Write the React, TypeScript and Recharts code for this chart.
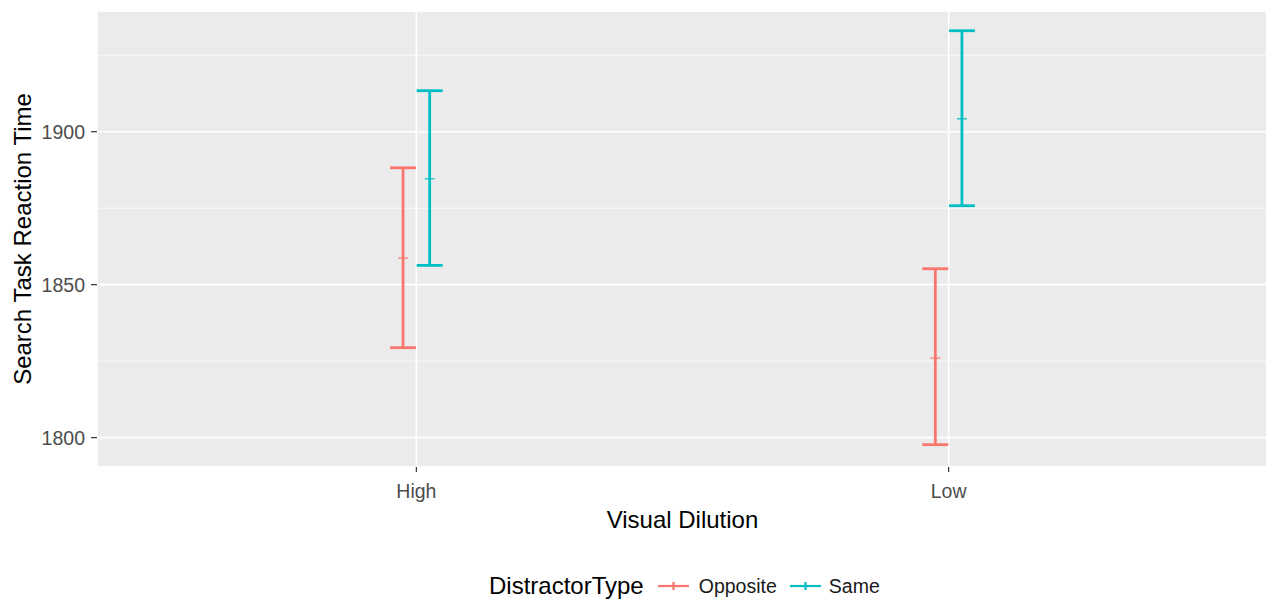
import React from 'react';
import {
  ComposedChart,
  Scatter,
  ErrorBar,
  XAxis,
  YAxis,
  CartesianGrid,
  Legend,
} from 'recharts';

const categories = ['High', 'Low'];
const categoryPositions = [1, 2];
const distractorTypes = ['Opposite', 'Same'];
const dodgeOffsets = [-0.025, 0.025];

const oppositeMean = [1858.7, 1826.0];
const oppositeLower = [1829.4, 1797.7];
const oppositeUpper = [1888.2, 1855.2];

const sameMean = [1884.6, 1904.2];
const sameLower = [1856.3, 1875.8];
const sameUpper = [1913.4, 1933.0];

const yTicks = [1800, 1850, 1900];
const yMinorTicks = [1825, 1875, 1925];
const yDomain = [1790.4, 1939.45];

const colors = ['#F8766D', '#00BFC4'];
const FONT = '"Liberation Sans", Arial, sans-serif';

function buildSeries(mean: number[], lower: number[], upper: number[], offset: number) {
  return categories.map((c, i) => ({
    category: c,
    x: categoryPositions[i] + offset,
    y: mean[i],
    err: [mean[i] - lower[i], upper[i] - mean[i]],
  }));
}

const oppositeData = buildSeries(oppositeMean, oppositeLower, oppositeUpper, dodgeOffsets[0]);
const sameData = buildSeries(sameMean, sameLower, sameUpper, dodgeOffsets[1]);

const meanShape = (color: string) => (props: any) => {
  const { cx, cy } = props;
  return <line x1={cx - 5} y1={cy} x2={cx + 5} y2={cy} stroke={color} strokeWidth={1.2} />;
};

const renderLegend = () => (
  <div style={{ display: 'flex', alignItems: 'center', fontFamily: FONT, whiteSpace: 'nowrap' }}>
    <span style={{ fontSize: 24, color: '#000', marginRight: 14 }}>DistractorType</span>
    {distractorTypes.map((t, i) => (
      <span key={t} style={{ display: 'flex', alignItems: 'center', marginRight: i === 0 ? 13 : 0 }}>
        <svg width={31} height={20}>
          <line x1={0} y1={10} x2={31} y2={10} stroke={colors[i]} strokeWidth={2.2} />
          <line x1={15.5} y1={6} x2={15.5} y2={14} stroke={colors[i]} strokeWidth={2.2} />
        </svg>
        <span style={{ fontSize: 19.5, color: '#1a1a1a', marginLeft: i === 0 ? 10 : 8 }}>{t}</span>
      </span>
    ))}
  </div>
);

export default function App() {
  return (
    <div style={{ position: 'absolute', left: 0, top: 0, width: 1266, height: 599, background: '#fff', fontFamily: FONT }}>
      <ComposedChart
        width={1266}
        height={599}
        margin={{ top: 11, right: -2, bottom: 0, left: 0 }}
        style={{ fontFamily: FONT }}
      >
        <CartesianGrid
          yAxisId="minor"
          fill="#EBEBEB"
          stroke="#FFFFFF"
          strokeWidth={0.8}
          vertical={false}
        />
        <CartesianGrid stroke="#FFFFFF" strokeWidth={1.6} fill="none" />
        <XAxis
          type="number"
          dataKey="x"
          domain={[0.4, 2.6]}
          ticks={categoryPositions}
          tickFormatter={(v: number) => categories[Math.round(v) - 1]}
          allowDataOverflow
          axisLine={false}
          tickLine={{ stroke: '#333333', strokeWidth: 1.2 }}
          tickSize={5}
          tickMargin={12}
          height={132}
          tick={{ fill: '#4D4D4D', fontSize: 19.5 }}
          label={{
            content: (p: any) => {
              const vb = p.viewBox || {};
              return (
                <text x={vb.x + vb.width / 2} y={vb.y + 52} textAnchor="middle" dominantBaseline="central" fontSize={24} fill="#000">
                  Visual Dilution
                </text>
              );
            },
          }}
        />
        <YAxis
          type="number"
          dataKey="y"
          domain={yDomain}
          ticks={yTicks}
          allowDataOverflow
          axisLine={false}
          tickLine={{ stroke: '#333333', strokeWidth: 1.2 }}
          tickSize={6}
          tickMargin={6}
          width={97}
          tick={{ fill: '#4D4D4D', fontSize: 19.5 }}
          label={{
            content: (p: any) => {
              const vb = p.viewBox || {};
              const cy = vb.y + vb.height / 2;
              return (
                <text x={22} y={cy} textAnchor="middle" dominantBaseline="central" fontSize={24} fill="#000" transform={`rotate(-90, 22, ${cy})`}>
                  Search Task Reaction Time
                </text>
              );
            },
          }}
        />
        <YAxis yAxisId="minor" type="number" domain={yDomain} ticks={yMinorTicks} allowDataOverflow hide />
        <Scatter name={distractorTypes[0]} data={oppositeData} shape={meanShape(colors[0])} isAnimationActive={false}>
          <ErrorBar dataKey="err" direction="y" width={13} stroke={colors[0]} strokeWidth={2.8} isAnimationActive={false} />
        </Scatter>
        <Scatter name={distractorTypes[1]} data={sameData} shape={meanShape(colors[1])} isAnimationActive={false}>
          <ErrorBar dataKey="err" direction="y" width={13} stroke={colors[1]} strokeWidth={2.8} isAnimationActive={false} />
        </Scatter>
        <Legend
          layout="horizontal"
          verticalAlign="middle"
          align="center"
          content={renderLegend}
          wrapperStyle={{ position: 'absolute', left: 489, top: 572, width: 'auto', height: 26 }}
        />
      </ComposedChart>
    </div>
  );
}
